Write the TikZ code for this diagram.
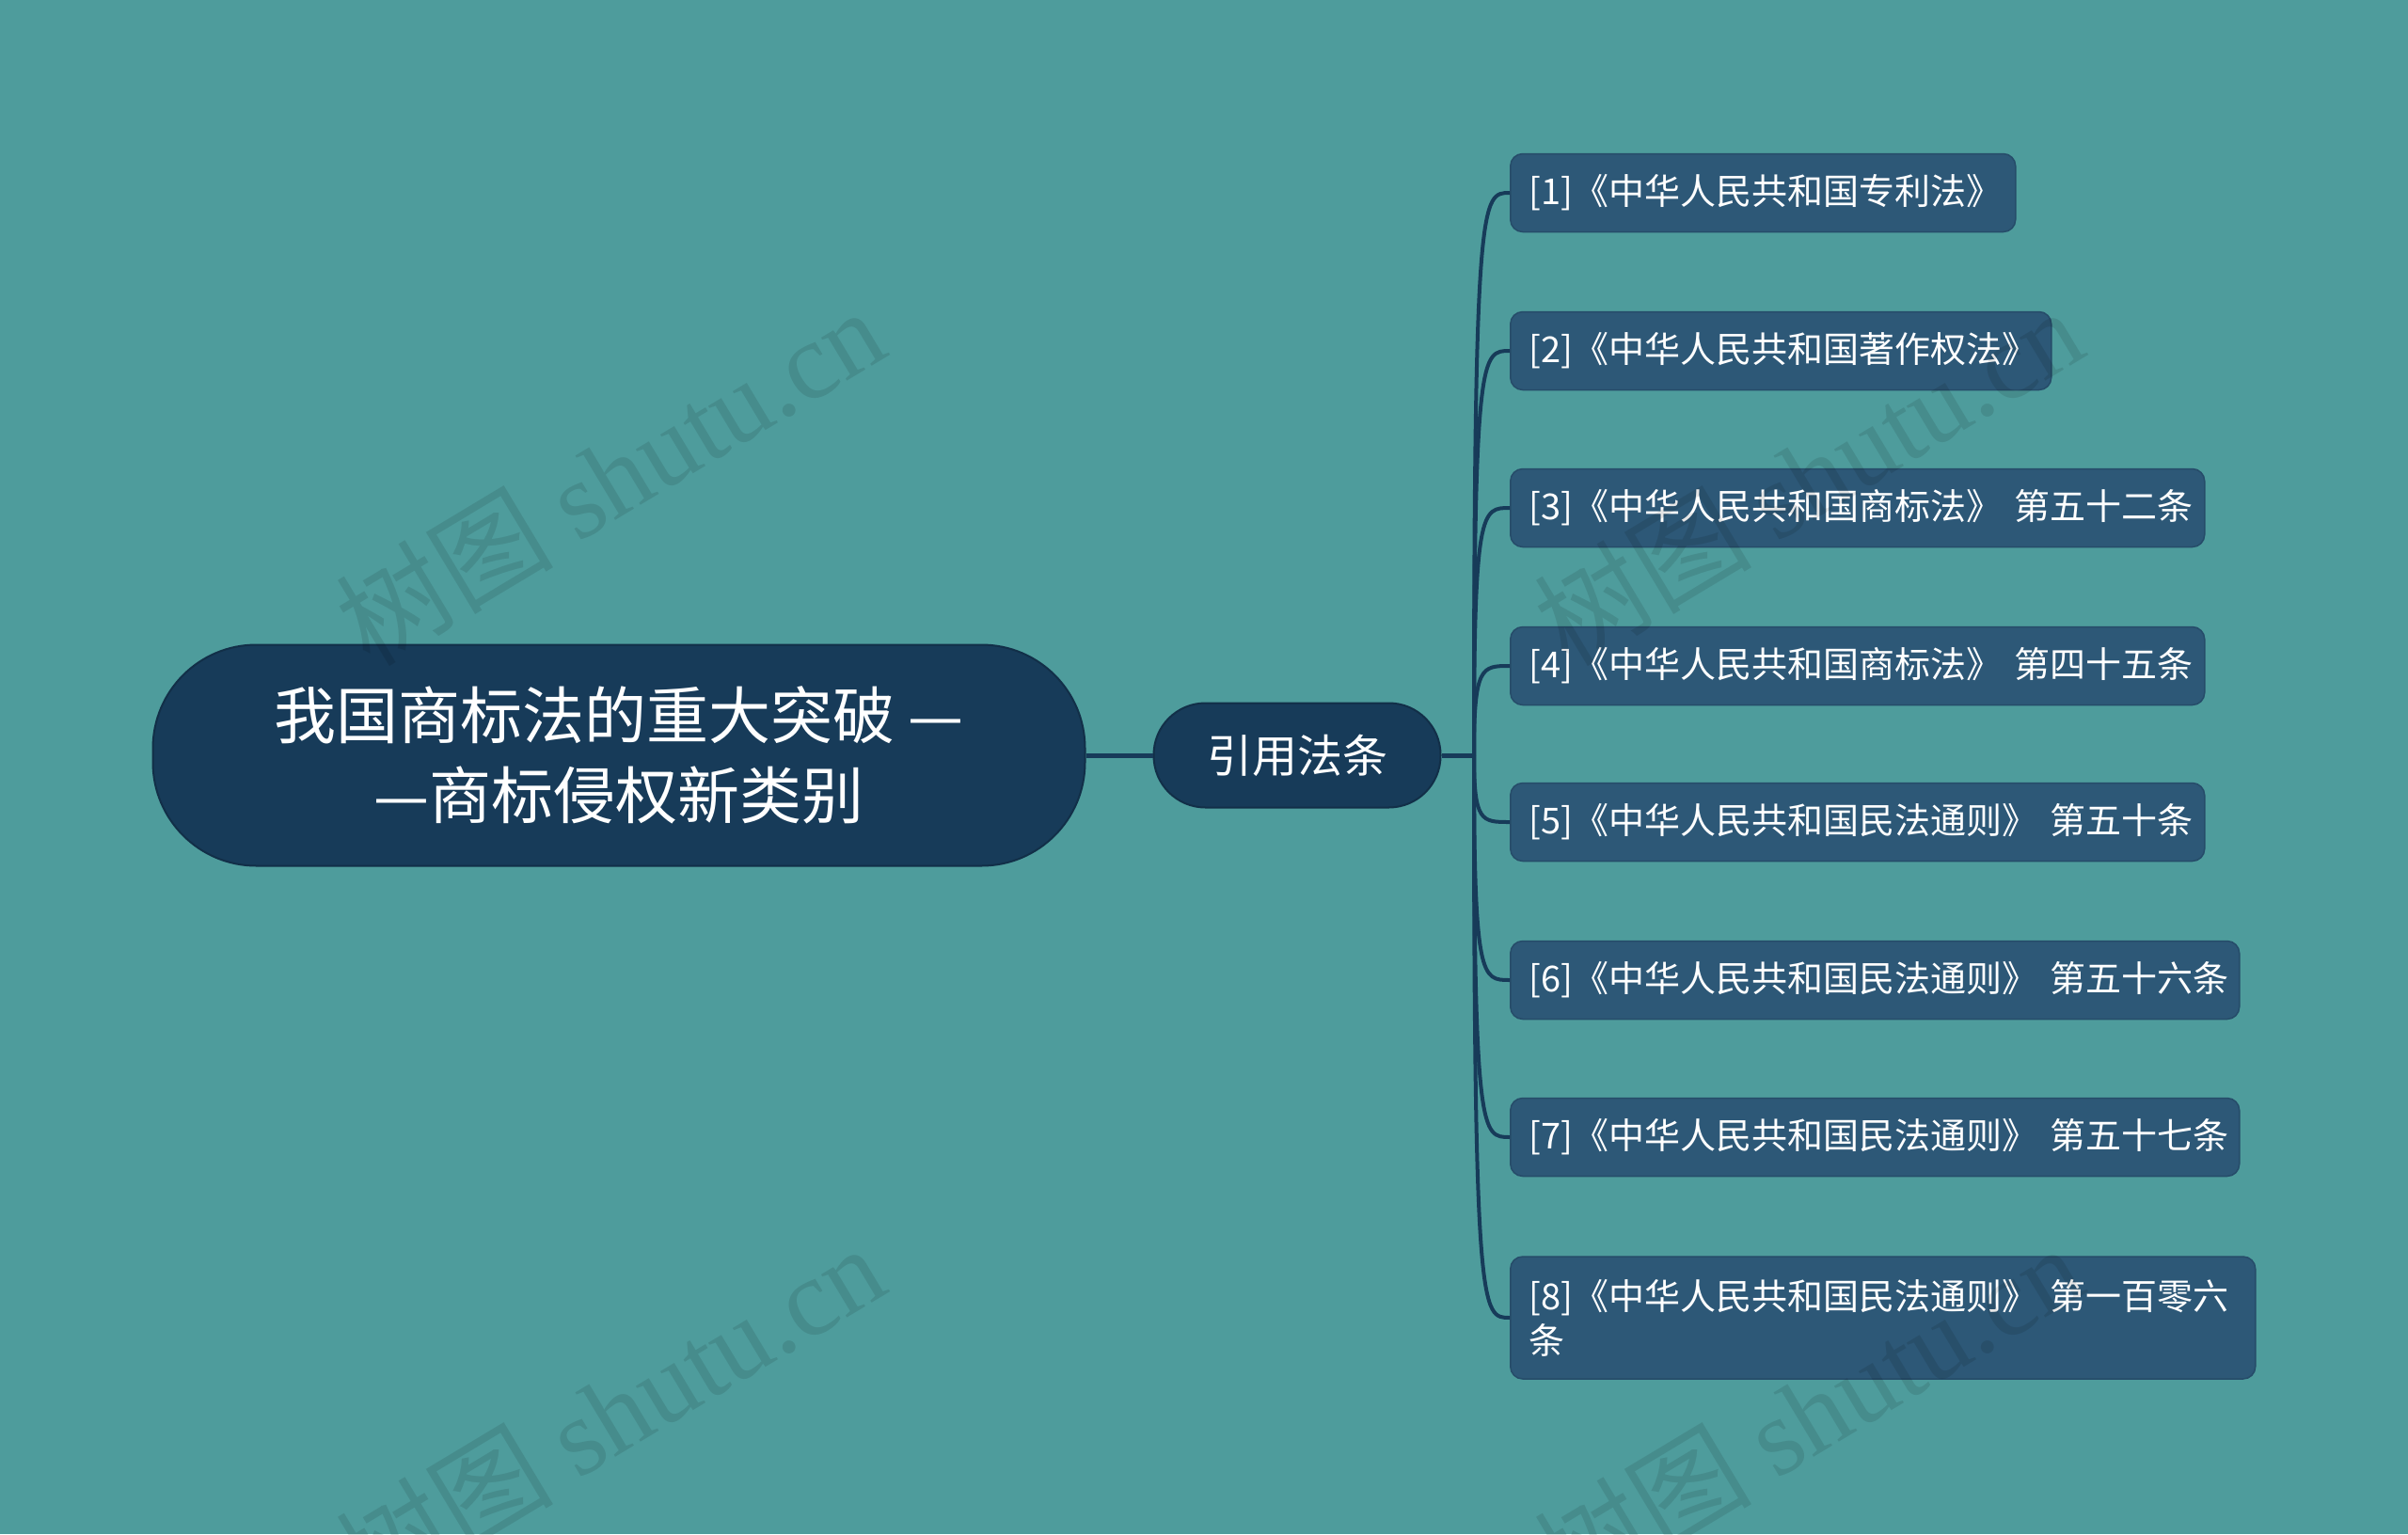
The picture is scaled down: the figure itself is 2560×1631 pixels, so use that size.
\documentclass[tikz,border=0pt]{standalone}
\usepackage{fontspec}
\setmainfont{Noto Sans CJK SC}
\newfontfamily\wmserif{Liberation Serif}
\definecolor{bgc}{HTML}{4E9C9C}
\definecolor{rootc}{HTML}{173B59}
\definecolor{rootedge}{HTML}{122F48}
\definecolor{leafc}{HTML}{2D5877}
\definecolor{leafedge}{HTML}{264C69}
\definecolor{linec}{HTML}{173B59}
\begin{document}
\begin{tikzpicture}[x=1pt,y=-1pt,
  rootbox/.style={rectangle, rounded corners=110pt, fill=rootc, draw=rootedge, line width=2pt,
    minimum width=991pt, minimum height=235pt, inner sep=0pt, text=white, align=center,
    font=\fontsize{66}{85}\selectfont},
  childbox/.style={rectangle, rounded corners=55pt, fill=rootc, draw=rootedge, line width=2pt,
    minimum width=305pt, minimum height=111pt, inner sep=0pt, text=white,
    font=\fontsize{48}{58}\selectfont},
  leafbox/.style={rectangle, rounded corners=13pt, fill=leafc, draw=leafedge, line width=1.5pt,
    anchor=west, minimum height=83pt, inner xsep=20pt, inner ysep=0pt, text=white, align=left,
    font=\fontsize{38}{47}\selectfont},
  conn/.style={draw=linec, line width=5pt},
  wmark/.style={text=black, opacity=0.1, rotate=31, font=\fontsize{116}{120}\selectfont, inner sep=0pt}
]
\fill[bgc] (0,0) rectangle (2560,1631);
\useasboundingbox (0,0) rectangle (2560,1631);

% nodes
\node[rootbox] (root) at (658,803) {我国商标法的重大突破 —\\—商标侵权新类别};
\node[childbox] (sub) at (1379,803) {引用法条};
\coordinate (trunk) at (1567,803);

\node[leafbox, text width=497pt] (l1) at (1605,205) {[1]《中华人民共和国专利法》};
\node[leafbox, text width=535pt] (l2) at (1605,373) {[2]《中华人民共和国著作权法》};
\node[leafbox, text width=698pt] (l3) at (1605,540) {[3]《中华人民共和国商标法》~第五十二条};
\node[leafbox, text width=698pt] (l4) at (1605,708) {[4]《中华人民共和国商标法》~第四十五条};
\node[leafbox, text width=698pt] (l5) at (1605,874) {[5]《中华人民共和国民法通则》~第五十条};
\node[leafbox, text width=735pt] (l6) at (1605,1042) {[6]《中华人民共和国民法通则》~第五十六条};
\node[leafbox, text width=735pt] (l7) at (1605,1209) {[7]《中华人民共和国民法通则》~第五十七条};
\node[leafbox, text width=752pt, minimum height=130pt] (l8) at (1605,1401) {[8]《中华人民共和国民法通则》~第一百零六\\条};

% connectors
\draw[conn] (root.east) -- (sub.west);
\draw[conn] (sub.east) -- (trunk);
\foreach \n/\yy in {l1/205, l2/373, l3/540, l4/708, l5/874, l6/1042, l7/1209, l8/1401}{
  \draw[conn, line width=4pt] (trunk) .. controls (1567,\yy) and (1575,\yy) .. (\n.west);
}

% watermarks
\node[wmark] (wm1) at (648,506) {树图 {\wmserif shutu.cn}};
\node[wmark] (wm2) at (1922,506) {树图 {\wmserif shutu.cn}};
\node[wmark] (wm3) at (648,1502) {树图 {\wmserif shutu.cn}};
\node[wmark] (wm4) at (1922,1502) {树图 {\wmserif shutu.cn}};
\end{tikzpicture}
\end{document}
